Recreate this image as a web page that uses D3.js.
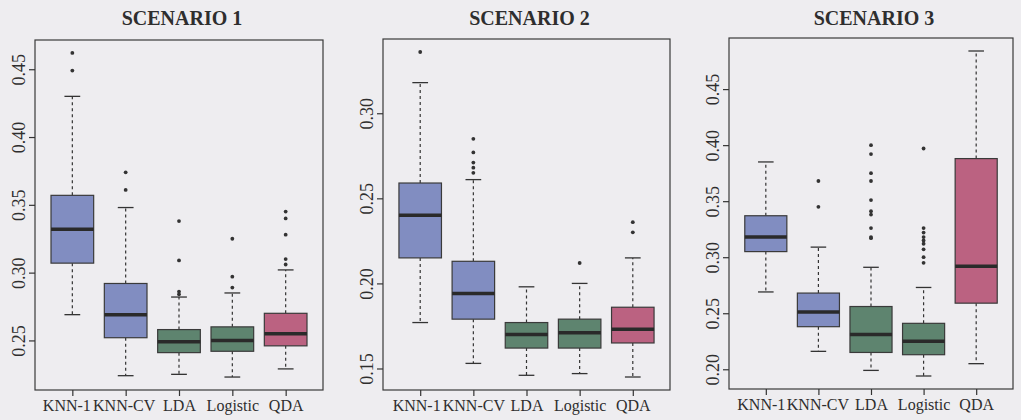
<!DOCTYPE html>
<html><head><meta charset="utf-8">
<script src="https://cdn.jsdelivr.net/npm/d3@7"></script>
<style>
html,body{margin:0;padding:0;background:#eeedf0;}
svg{display:block;}
</style></head>
<body><svg id="c" width="1021" height="420"></svg>
<script>
// ---- data ----
const methods = ["KNN-1","KNN-CV","LDA","Logistic","QDA"];
const titles = ["SCENARIO 1","SCENARIO 2","SCENARIO 3"];
// five-number summaries [lowWhisker, Q1, median, Q3, highWhisker]
const scenario1Stats = [
  [0.269,0.307,0.332,0.357,0.430],
  [0.224,0.252,0.269,0.292,0.348],
  [0.225,0.241,0.249,0.258,0.282],
  [0.223,0.242,0.250,0.260,0.285],
  [0.229,0.246,0.255,0.270,0.302]
];
const scenario1Outliers = [
  [0.462,0.449],
  [0.374,0.361],
  [0.338,0.309,0.286,0.284],
  [0.325,0.297,0.289],
  [0.345,0.340,0.328,0.310,0.306]
];
const scenario2Stats = [
  [0.177,0.215,0.240,0.259,0.318],
  [0.153,0.179,0.194,0.213,0.261],
  [0.146,0.162,0.170,0.177,0.198],
  [0.147,0.162,0.171,0.179,0.200],
  [0.145,0.165,0.173,0.186,0.215]
];
const scenario2Outliers = [
  [0.336],
  [0.285,0.277,0.271,0.268,0.265],
  [],
  [0.212],
  [0.236,0.230]
];
const scenario3Stats = [
  [0.269,0.305,0.318,0.337,0.385],
  [0.216,0.238,0.251,0.268,0.309],
  [0.199,0.215,0.231,0.256,0.291],
  [0.194,0.213,0.225,0.241,0.273],
  [0.205,0.259,0.292,0.388,0.484]
];
const scenario3Outliers = [
  [],
  [0.368,0.345],
  [0.400,0.392,0.375,0.368,0.351,0.341,0.338,0.326,0.318,0.317],
  [0.397,0.326,0.322,0.318,0.315,0.312,0.307,0.300,0.295],
  []
];
const scenario1Ticks = [0.25,0.30,0.35,0.40,0.45];
const scenario2Ticks = [0.15,0.20,0.25,0.30];
const scenario3Ticks = [0.20,0.25,0.30,0.35,0.40,0.45];
const boxColors = ["#818dc1","#818dc1","#5e846f","#5e846f","#bb6281"];

// ---- layout ----
const panels = [
  {stats:scenario1Stats, out:scenario1Outliers, ticks:scenario1Ticks, l:35, r:323, t:40, b:390, lblShift:[-6,-2,0,0,0]},
  {stats:scenario2Stats, out:scenario2Outliers, ticks:scenario2Ticks, l:383, r:670, t:39, b:390, lblShift:[-4,0,0,0,0]},
  {stats:scenario3Stats, out:scenario3Outliers, ticks:scenario3Ticks, l:729, r:1013, t:38, b:389, lblShift:[-5,-1,0,0,0]}
];
const svg = d3.select("#c");
const ink = "#333";
const serif = '"Liberation Serif"';

panels.forEach((p, pi) => {
  const all = [];
  p.stats.forEach(s => all.push(s[0], s[4]));
  p.out.forEach(o => o.forEach(v => all.push(v)));
  const [mn, mx] = d3.extent(all);
  const pad = (mx - mn) * 0.04;
  const y = d3.scaleLinear().domain([mn - pad, mx + pad]).range([p.b, p.t]);
  const x = d3.scaleLinear().domain([0.3, 5.7]).range([p.l, p.r]);
  const g = svg.append("g");
  const bw = x(1.4) - x(1);   // half box width (boxwex 0.8)
  const cw = bw * 0.37;

  p.stats.forEach((s, i) => {
    const cx = x(i + 1);
    g.append("line").attr("x1",cx).attr("x2",cx).attr("y1",y(s[3])).attr("y2",y(s[4]))
      .attr("stroke",ink).attr("stroke-width",1.2).attr("stroke-dasharray","3,3");
    g.append("line").attr("x1",cx).attr("x2",cx).attr("y1",y(s[1])).attr("y2",y(s[0]))
      .attr("stroke",ink).attr("stroke-width",1.2).attr("stroke-dasharray","3,3");
    [s[0], s[4]].forEach(v => g.append("line").attr("x1",cx-cw).attr("x2",cx+cw)
      .attr("y1",y(v)).attr("y2",y(v)).attr("stroke",ink).attr("stroke-width",1.3));
    g.append("rect").attr("x",cx-bw).attr("width",2*bw).attr("y",y(s[3])).attr("height",y(s[1])-y(s[3]))
      .attr("fill",boxColors[i]).attr("stroke","#3a3a3a").attr("stroke-width",1.2);
    g.append("line").attr("x1",cx-bw).attr("x2",cx+bw).attr("y1",y(s[2])).attr("y2",y(s[2]))
      .attr("stroke","#2a2a2a").attr("stroke-width",3.5);
    p.out[i].forEach(v => g.append("circle").attr("cx",cx).attr("cy",y(v)).attr("r",1.9).attr("fill","#333"));
  });

  g.append("rect").attr("x",p.l).attr("y",p.t).attr("width",p.r-p.l).attr("height",p.b-p.t)
    .attr("fill","none").attr("stroke","#3a3a3a").attr("stroke-width",1.2);

  const xa = g.append("g").attr("transform",`translate(0,${p.b})`)
    .call(d3.axisBottom(x).tickValues([1,2,3,4,5]).tickFormat((d)=>methods[d-1]).tickSize(6).tickPadding(4));
  xa.attr("font-family", null).attr("font-size", null);
  xa.select(".domain").remove();
  xa.selectAll("line").attr("stroke",ink).attr("stroke-width",1.2);
  xa.selectAll("text").attr("font-family", serif).attr("font-size",16).attr("fill","#2e2e2e")
    .attr("dx", (d) => p.lblShift[d-1]);

  const ya = g.append("g").attr("transform",`translate(${p.l},0)`)
    .call(d3.axisLeft(y).tickValues(p.ticks).tickFormat(d3.format(".2f")).tickSize(6));
  ya.attr("font-family", null).attr("font-size", null);
  ya.select(".domain").remove();
  ya.selectAll("line").attr("stroke",ink).attr("stroke-width",1.2);
  ya.selectAll("text").attr("font-family", serif).attr("font-size",18).attr("fill","#2e2e2e")
    .attr("text-anchor","middle").attr("dy",0).attr("x",0).attr("y",0)
    .attr("transform", "translate(-10,0) rotate(-90)");

  g.append("text").attr("x",(p.l+p.r)/2 + 3).attr("y",25).attr("text-anchor","middle")
    .attr("font-family", serif).attr("fill","#2e2e2e")
    .attr("font-size",20).attr("font-weight","bold").text(titles[pi]);
});
</script></body></html>
